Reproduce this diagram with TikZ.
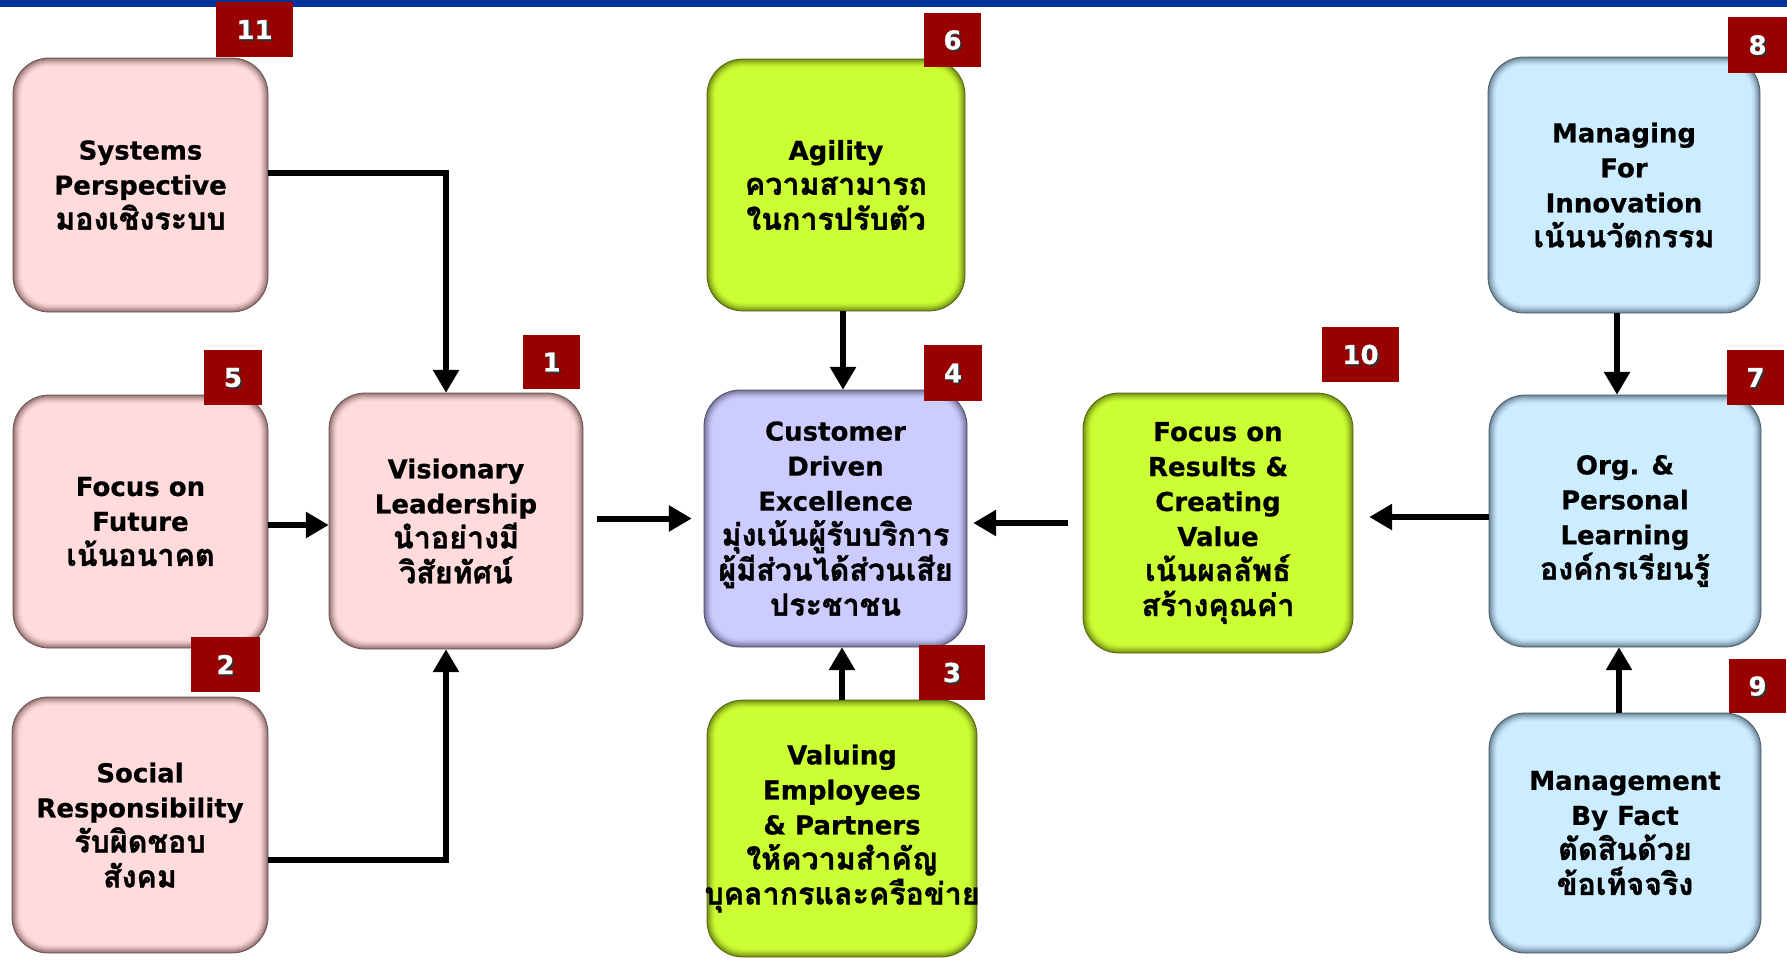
\documentclass[tikz,border=0pt]{standalone}
\usepackage{fontspec}
\setmainfont{DejaVu Sans}[BoldFeatures={FakeBold=0.6}]
\newfontfamily\thaifont[Script=Thai,Scale=1.17,BoldFont={Loma Bold},BoldFeatures={FakeBold=1.2}]{Loma}
\usetikzlibrary{arrows.meta}
\definecolor{pinkF}{RGB}{255,219,219}
\definecolor{pinkE}{RGB}{145,112,112}
\definecolor{greenF}{RGB}{204,255,51}
\definecolor{greenE}{RGB}{112,140,20}
\definecolor{lavF}{RGB}{204,204,255}
\definecolor{lavE}{RGB}{112,112,150}
\definecolor{blueF}{RGB}{204,236,255}
\definecolor{blueE}{RGB}{105,130,148}
\definecolor{badgeC}{RGB}{153,0,0}
\definecolor{topbar}{RGB}{0,51,153}
\newcommand\tha[1]{{\thaifont #1}}
\tikzset{
  boxtext/.style={font=\bfseries\fontsize{26}{35}\selectfont, align=center, inner sep=0pt, text=black, shape=rectangle},
  badgetxt/.style={font=\bfseries\fontsize{26}{30}\selectfont, inner sep=0pt},
  arr/.style={line width=6pt, -{Triangle[length=23pt,width=25pt]}},
}
% name, cx, cy, w, h, fill, edge, text
\newcommand\gbox[8]{%
  \foreach \i/\p in {0/0,1/18,2/34,3/49,4/62,5/74,6/84,7/92,8/97,9/100}{%
    \pgfmathsetmacro\rr{36-\i}%
    \fill[#6!\p!#7, rounded corners=\rr pt] ({#2-#4/2+\i},{#3-#5/2+\i}) rectangle ({#2+#4/2-\i},{#3+#5/2-\i});
  }
  \draw[#7!75!black, line width=0.8pt, rounded corners=36pt] ({#2-#4/2},{#3-#5/2}) rectangle ({#2+#4/2},{#3+#5/2});
  \node[boxtext, minimum width=#4pt, minimum height=#5pt] (#1) at (#2,#3) {#8};
}
% name, x1, y1, x2, y2, num
\newcommand\badge[6]{%
  \fill[badgeC] (#2,#3) rectangle (#4,#5);
  \node[badgetxt, text=black!80] (#1s) at ({(#2+#4)/2+1.8},{(#3+#5)/2+1.8}) {#6};
  \node[badgetxt, text=white] (#1) at ({(#2+#4)/2},{(#3+#5)/2}) {#6};
}
\begin{document}
\begin{tikzpicture}[x=1pt,y=-1pt]
\useasboundingbox (0,0) rectangle (1787,959);
\fill[white] (0,0) rectangle (1787,959);
\fill[topbar] (0,0) rectangle (1787,7);

\gbox{sys}{140.5}{185}{255}{254}{pinkF}{pinkE}{Systems\\Perspective\\\tha{มองเชิงระบบ}}
\gbox{fut}{140.5}{521.5}{255}{253}{pinkF}{pinkE}{Focus on\\Future\\\tha{เน้นอนาคต}}
\gbox{soc}{140}{825}{256}{256}{pinkF}{pinkE}{Social\\Responsibility\\\tha{รับผิดชอบ}\\\tha{สังคม}}
\gbox{vis}{456}{521}{254}{256}{pinkF}{pinkE}{Visionary\\Leadership\\\tha{นำอย่างมี}\\\tha{วิสัยทัศน์}}
\gbox{agi}{836}{185}{258}{252}{greenF}{greenE}{Agility\\\tha{ความสามารถ}\\\tha{ในการปรับตัว}}
\gbox{cust}{835.5}{518.5}{263}{257}{lavF}{lavE}{Customer\\Driven\\Excellence\\\tha{มุ่งเน้นผู้รับบริการ}\\\tha{ผู้มีส่วนได้ส่วนเสีย}\\\tha{ประชาชน}}
\gbox{val}{842}{828.5}{270}{257}{greenF}{greenE}{Valuing\\Employees\\\& Partners\\\tha{ให้ความสำคัญ}\\\tha{บุคลากรและครือข่าย}}
\gbox{res}{1218}{523}{270}{260}{greenF}{greenE}{Focus on\\Results \&\\Creating\\Value\\\tha{เน้นผลลัพธ์}\\\tha{สร้างคุณค่า}}
\gbox{man}{1624}{185}{272}{256}{blueF}{blueE}{Managing\\For\\Innovation\\\tha{เน้นนวัตกรรม}}
\gbox{org}{1625}{521}{272}{252}{blueF}{blueE}{Org. \&\\Personal\\Learning\\\tha{องค์กรเรียนรู้}}
\gbox{mbf}{1625}{833}{272}{240}{blueF}{blueE}{Management\\By Fact\\\tha{ตัดสินด้วย}\\\tha{ข้อเท็จจริง}}

\coordinate (a1) at ([yshift=12pt]sys.east);
\coordinate (a1t) at ([xshift=-10pt]vis.north);
\draw[arr] (a1) -| (a1t);
\coordinate (a2) at ([yshift=-35pt]soc.east);
\coordinate (a2t) at ([xshift=-10pt]vis.south);
\draw[arr] (a2) -| (a2t);
\coordinate (a3) at ([yshift=-3.5pt]fut.east);
\draw[arr] (a3) -- (a3 -| vis.west);
\coordinate (a4) at ([xshift=14pt]vis.east);
\coordinate (a4t) at ([xshift=-12pt]cust.west);
\draw[arr] (a4 |- a4t) -- (a4t);
\coordinate (a5) at ([xshift=7pt]agi.south);
\draw[arr] (a5) -- (a5 |- cust.north);
\draw[arr] (val.north) -- (val.north |- cust.south);
\coordinate (a6) at ([xshift=-15pt]res.west);
\coordinate (a6t) at ([xshift=6pt]cust.east);
\draw[arr] (a6) -- (a6 -| a6t);
\coordinate (a7) at ([yshift=4pt]org.west);
\coordinate (a7t) at ([xshift=16pt]res.east);
\draw[arr] (a7) -- (a7 -| a7t);
\coordinate (a8) at ([xshift=-7pt]man.south);
\draw[arr] (a8) -- (a8 |- org.north);
\coordinate (a9) at ([xshift=-6pt]mbf.north);
\draw[arr] (a9) -- (a9 |- org.south);

\badge{b11}{216}{2}{293}{57}{11}
\badge{b5}{204}{350}{262}{405}{5}
\badge{b2}{191}{637}{260}{692}{2}
\badge{b1}{523}{335}{580}{389}{1}
\badge{b6}{924}{13}{981}{67}{6}
\badge{b4}{924}{345}{982}{401}{4}
\badge{b3}{919}{645}{985}{700}{3}
\badge{b10}{1322}{327}{1399}{382}{10}
\badge{b8}{1728}{17}{1787}{73}{8}
\badge{b7}{1727}{350}{1784}{405}{7}
\badge{b9}{1729}{659}{1786}{713}{9}
\end{tikzpicture}
\end{document}
